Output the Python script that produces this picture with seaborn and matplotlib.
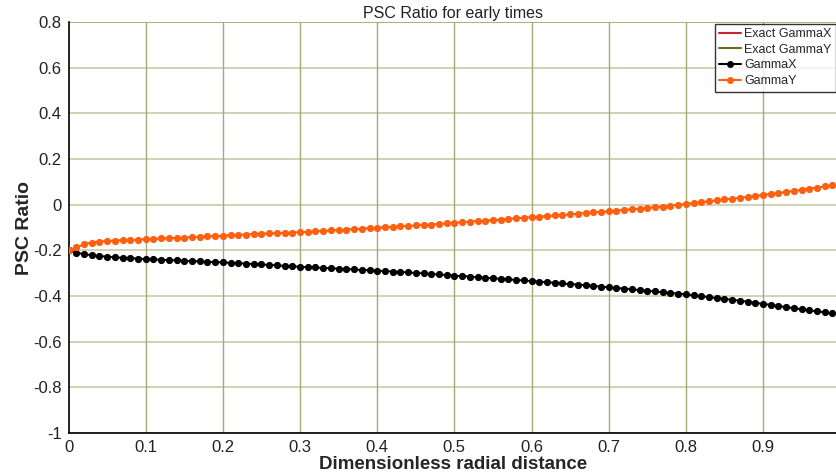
import matplotlib
matplotlib.use("Agg")
import matplotlib.pyplot as plt
import seaborn as sns
import pandas as pd
import numpy as np
from matplotlib.lines import Line2D

# ---- data ----
radial = [i / 100 for i in range(100)]
gamma_y = [-0.199, -0.187, -0.174, -0.166, -0.162, -0.159, -0.157, -0.156, -0.155, -0.153,
           -0.151, -0.149, -0.148, -0.147, -0.146, -0.144, -0.143, -0.141, -0.139, -0.138,
           -0.136, -0.134, -0.132, -0.131, -0.129, -0.127, -0.126, -0.125, -0.123, -0.122,
           -0.121, -0.119, -0.117, -0.115, -0.113, -0.111, -0.109, -0.107, -0.105, -0.103,
           -0.101, -0.099, -0.097, -0.095, -0.093, -0.091, -0.089, -0.087, -0.084, -0.082,
           -0.079, -0.077, -0.074, -0.072, -0.070, -0.067, -0.065, -0.062, -0.060, -0.057,
           -0.055, -0.052, -0.050, -0.047, -0.045, -0.042, -0.039, -0.037, -0.034, -0.032,
           -0.029, -0.026, -0.023, -0.020, -0.017, -0.014, -0.011, -0.008, -0.004, -0.001,
           0.003, 0.007, 0.011, 0.015, 0.019, 0.023, 0.026, 0.030, 0.034, 0.038,
           0.043, 0.047, 0.051, 0.056, 0.060, 0.065, 0.070, 0.075, 0.080, 0.086]
gamma_x = [-0.199, -0.210, -0.217, -0.221, -0.225, -0.228, -0.230, -0.233, -0.235, -0.236,
           -0.238, -0.240, -0.241, -0.243, -0.244, -0.246, -0.247, -0.249, -0.250, -0.252,
           -0.253, -0.255, -0.257, -0.258, -0.260, -0.262, -0.264, -0.266, -0.268, -0.270,
           -0.272, -0.274, -0.275, -0.277, -0.279, -0.280, -0.282, -0.284, -0.286, -0.288,
           -0.289, -0.291, -0.293, -0.295, -0.297, -0.299, -0.301, -0.304, -0.306, -0.308,
           -0.311, -0.313, -0.315, -0.317, -0.320, -0.322, -0.325, -0.327, -0.330, -0.332,
           -0.335, -0.337, -0.340, -0.342, -0.345, -0.348, -0.350, -0.353, -0.356, -0.359,
           -0.362, -0.365, -0.368, -0.371, -0.374, -0.377, -0.380, -0.384, -0.387, -0.390,
           -0.393, -0.397, -0.401, -0.405, -0.409, -0.413, -0.417, -0.421, -0.425, -0.430,
           -0.435, -0.439, -0.444, -0.449, -0.453, -0.458, -0.463, -0.468, -0.472, -0.477]
exact_gamma_x = gamma_x
exact_gamma_y = gamma_y
x_ticks = [0, 0.1, 0.2, 0.3, 0.4, 0.5, 0.6, 0.7, 0.8, 0.9]
x_tick_labels = ["0", "0.1", "0.2", "0.3", "0.4", "0.5", "0.6", "0.7", "0.8", "0.9"]
y_ticks = [0.8, 0.6, 0.4, 0.2, 0, -0.2, -0.4, -0.6, -0.8, -1]
y_tick_labels = ["0.8", "0.6", "0.4", "0.2", "0", "-0.2", "-0.4", "-0.6", "-0.8", "-1"]
series_names = ["Exact GammaX", "Exact GammaY", "GammaX", "GammaY"]

# ---- style ----
sns.set_style("white")
plt.rcParams["font.family"] = ["Liberation Sans", "DejaVu Sans"]

df = pd.DataFrame({"r": radial, "gx": gamma_x, "gy": gamma_y,
                   "egx": exact_gamma_x, "egy": exact_gamma_y})

fig = plt.figure(figsize=(8.37, 4.74), dpi=100)
ax = fig.add_axes([0.082, 0.087, 0.918, 0.866])

red = "#c0282d"
olive = "#6b6b1a"
orange = "#ff6010"

sns.lineplot(data=df, x="r", y="egx", ax=ax, color=red, lw=1.2, zorder=3)
sns.lineplot(data=df, x="r", y="egy", ax=ax, color=olive, lw=1.2, zorder=3)
sns.lineplot(data=df, x="r", y="gx", ax=ax, color="black", lw=1.2, marker="o",
             markersize=5.2, markeredgewidth=0, zorder=4)
sns.lineplot(data=df, x="r", y="gy", ax=ax, color=orange, lw=1.2, marker="o",
             markersize=5.2, markeredgewidth=0, zorder=4)

ax.set_xlim(0, 0.996)
ax.set_ylim(-1, 0.8)
ax.set_xticks(x_ticks)
ax.set_xticklabels(x_tick_labels)
ax.set_yticks(y_ticks)
ax.set_yticklabels(y_tick_labels)

for yv in y_ticks:
    ax.axhline(yv, color="#cacaa8", lw=1.2, zorder=1)
for xv in x_ticks[1:]:
    ax.axvline(xv, color="#a8a878", lw=1.0, zorder=1)
ax.axhline(0.8, color="#a8a878", lw=1.2, zorder=1)

for s in ["top", "right"]:
    ax.spines[s].set_visible(False)
for s in ["left", "bottom"]:
    ax.spines[s].set_color("black")
    ax.spines[s].set_linewidth(1.2)
ax.spines["bottom"].set_zorder(5)

ax.tick_params(axis="both", which="both", direction="out", length=4, width=1,
               color="black", labelsize=12, labelcolor="#222222", pad=1)

ax.set_xlabel("Dimensionless radial distance", fontsize=13.5, fontweight="bold", labelpad=1)
ax.set_ylabel("PSC Ratio", fontsize=14, fontweight="bold", labelpad=0)
ax.set_title("PSC Ratio for early times", fontsize=11.5, pad=3, color="#222222")

handles = [
    Line2D([0], [0], color=red, lw=1.5),
    Line2D([0], [0], color=olive, lw=1.5),
    Line2D([0], [0], color="black", lw=1.5, marker="o", markersize=5, markeredgewidth=0),
    Line2D([0], [0], color=orange, lw=1.5, marker="o", markersize=5, markeredgewidth=0),
]
leg = ax.legend(handles, series_names, loc="upper right", bbox_to_anchor=(1.0, 1.0),
                fontsize=9, frameon=True, fancybox=False, handlelength=1.8,
                handletextpad=0.2, borderpad=0.35, labelspacing=0.3, borderaxespad=0.1)
leg.get_frame().set_edgecolor("black")
leg.get_frame().set_linewidth(1.0)
leg.set_zorder(10)

fig.savefig("out.png", dpi=100)
